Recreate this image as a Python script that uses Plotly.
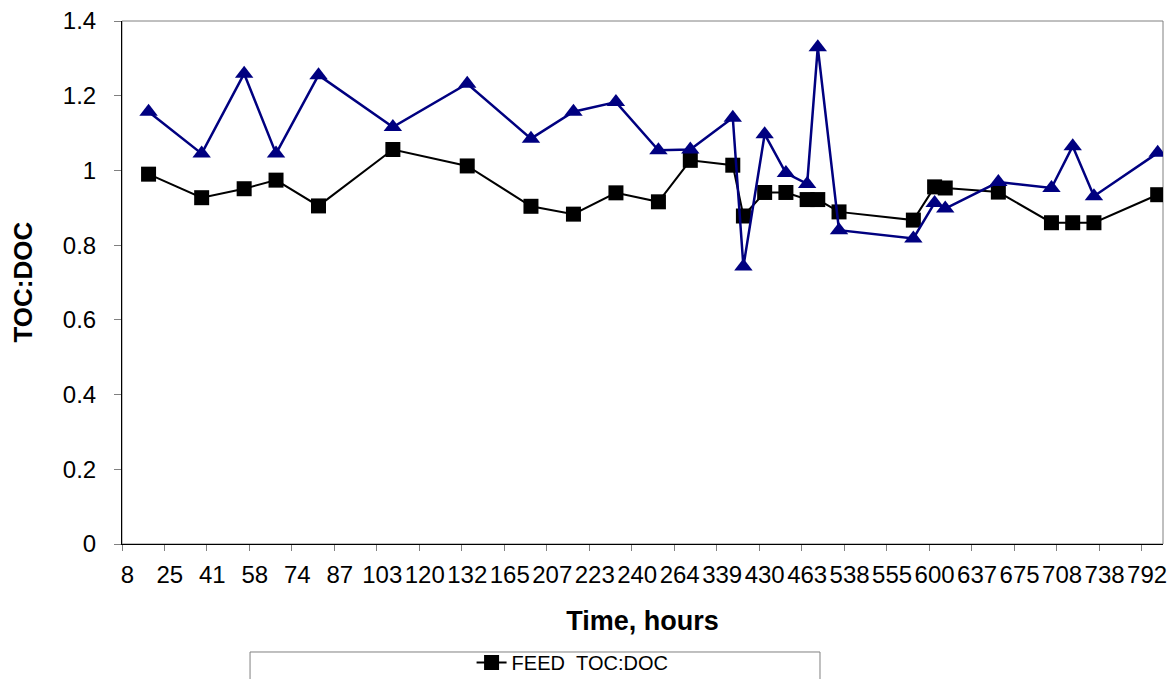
import plotly.graph_objects as go

# Category axis: 98 sampling rows, every 4th row labelled with its time (hours)
tick_rows = [0, 4, 8, 12, 16, 20, 24, 28, 32, 36, 40, 44, 48, 52, 56, 60, 64, 68, 72, 76, 80, 84, 88, 92, 96]
tick_labels = ["8", "25", "41", "58", "74", "87", "103", "120", "132", "165", "207", "223", "240",
               "264", "339", "430", "463", "538", "555", "600", "637", "675", "708", "738", "792"]
n_rows = 98

# rows holding measurements
rows = [2, 7, 11, 14, 18, 25, 32, 38, 42, 46, 50, 53, 57, 58, 60, 62, 64, 65, 67, 74, 76, 77, 82, 87, 89, 91, 97]

feed_toc_doc = [0.990, 0.927, 0.951, 0.974, 0.905, 1.056, 1.012, 0.904, 0.883, 0.940, 0.916, 1.027, 1.014,
                0.878, 0.941, 0.941, 0.922, 0.922, 0.889, 0.867, 0.956, 0.953, 0.942, 0.860, 0.860, 0.860, 0.935]
second_toc_doc = [1.157, 1.045, 1.259, 1.045, 1.255, 1.116, 1.232, 1.085, 1.157, 1.183, 1.054, 1.056, 1.141,
                  0.743, 1.097, 0.993, 0.964, 1.330, 0.840, 0.818, 0.913, 0.898, 0.969, 0.953, 1.065, 0.931, 1.047]

FONT = "Liberation Sans, Arial, Helvetica, sans-serif"
boundaries = [r - 0.5 for r in tick_rows]

fig = go.Figure()
fig.add_trace(go.Scatter(
    x=rows, y=feed_toc_doc, mode="lines+markers", name="FEED\u00a0\u00a0TOC:DOC",
    line=dict(color="#000000", width=2),
    marker=dict(symbol="square", size=15, color="#000000"),
))
fig.add_trace(go.Scatter(
    x=rows, y=second_toc_doc, mode="lines+markers", name="TOC:DOC", showlegend=False,
    line=dict(color="#000080", width=2.5),
    marker=dict(symbol="triangle-up", size=16, color="#000080"),
))
# invisible trace to carry the label axis
fig.add_trace(go.Scatter(x=[tick_rows[0]], y=[0], xaxis="x2", mode="markers",
                         marker=dict(opacity=0), showlegend=False, hoverinfo="skip"))

fig.update_layout(
    width=1176, height=679,
    margin=dict(l=122, r=13, t=21, b=135, autoexpand=False),
    plot_bgcolor="white", paper_bgcolor="white",
    font=dict(family=FONT, size=24, color="#000000"),
    xaxis=dict(
        range=[-0.5, n_rows - 0.5], tickmode="array", tickvals=boundaries,
        ticktext=[""] * len(boundaries), ticks="outside", ticklen=6, tickcolor="#808080",
        showgrid=False, zeroline=False, showline=True, linecolor="#000000", linewidth=1,
    ),
    xaxis2=dict(
        overlaying="x", side="bottom", range=[-0.5, n_rows - 0.5], tickmode="array",
        tickvals=tick_rows, ticktext=tick_labels, ticks="outside", ticklen=6,
        tickcolor="rgba(0,0,0,0)", showgrid=False, zeroline=False, showline=False,
        ticklabelstandoff=3, tickfont=dict(size=24),
        title=dict(text="<b>Time, hours</b>", font=dict(size=27), standoff=24),
    ),
    yaxis=dict(
        range=[0, 1.4], tickmode="array", tickvals=[0, 0.2, 0.4, 0.6, 0.8, 1.0, 1.2, 1.4],
        ticktext=["0", "0.2", "0.4", "0.6", "0.8", "1", "1.2", "1.4"],
        ticks="outside", ticklen=7, tickcolor="#808080", ticklabelstandoff=13,
        showgrid=False, zeroline=False, showline=True, linecolor="#000000", linewidth=1,
        tickfont=dict(size=24),
    ),
    annotations=[
        dict(text="<b>TOC:DOC</b>", xref="paper", yref="paper", x=-0.096, y=0.5,
             xanchor="center", yanchor="middle", textangle=-90, showarrow=False,
             font=dict(size=26)),
    ],
    showlegend=True,
    legend=dict(xref="container", yref="container", x=0.401, y=0.053, xanchor="left", yanchor="top",
                bgcolor="rgba(0,0,0,0)", borderwidth=0, font=dict(size=20), itemwidth=30),
    shapes=[
        dict(type="rect", xref="paper", yref="paper", x0=0, y0=0, x1=1, y1=1,
             line=dict(color="#808080", width=1), layer="below"),
        dict(type="rect", xref="paper", yref="paper", x0=0.123, x1=0.6705, y0=-0.2065, y1=-0.30,
             line=dict(color="#808080", width=1), fillcolor="rgba(0,0,0,0)", layer="below"),
    ],
)

fig.write_html("out.html")
